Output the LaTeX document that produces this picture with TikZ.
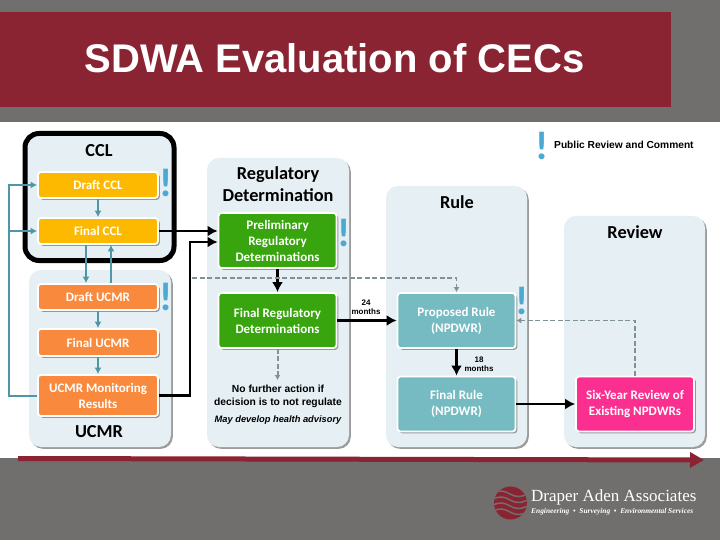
\documentclass[tikz,border=0pt]{standalone}
\usepackage{fontspec}
\setmainfont{Liberation Serif}
\setsansfont{Carlito}
\newfontfamily\arialf{Liberation Sans}
\usetikzlibrary{shadows,arrows.meta,calc}
\definecolor{bgray}{HTML}{716E6E}
\definecolor{maroon}{HTML}{8A2432}
\definecolor{panelc}{HTML}{E6F0F4}
\definecolor{ambc}{HTML}{FDB900}
\definecolor{orgc}{HTML}{F98A3D}
\definecolor{grnc}{HTML}{38A50F}
\definecolor{tealc}{HTML}{75BBC1}
\definecolor{pinkc}{HTML}{FB2F8F}
\definecolor{arrc}{HTML}{4F96A6}
\definecolor{dashc}{HTML}{7F9298}
\definecolor{markc}{HTML}{4CA9D2}
\tikzset{
  shad/.style={drop shadow={shadow xshift=1.8pt,shadow yshift=-1.8pt,opacity=.7,fill=black!55}},
  panel/.style={fill=panelc,rounded corners=12pt,inner sep=0pt,shad},
  ptitle/.style={font=\sffamily\bfseries\fontsize{18.3}{22}\selectfont,text=black,align=center,inner sep=0pt},
  cbox/.style={draw=white,line width=1.8pt,rounded corners=3pt,inner sep=0pt,shad,
     text=white,align=center,font=\sffamily\bfseries\fontsize{13}{16}\selectfont},
  amb/.style={cbox,fill=ambc,minimum width=120pt,minimum height=26pt},
  org/.style={cbox,fill=orgc,minimum width=120pt},
  grn/.style={cbox,fill=grnc,minimum width=118pt},
  tea/.style={cbox,fill=tealc,minimum width=118pt,minimum height=55pt},
  pnk/.style={cbox,fill=pinkc,minimum width=118pt,minimum height=55pt},
  tarr/.style={draw=arrc,line width=2pt,-{Latex[length=6.5pt,width=7pt]}},
  barr/.style={draw=black,line width=2.6pt,-{Latex[length=10pt,width=11pt]}},
  darr/.style={draw=dashc,line width=1.2pt,dash pattern=on 5pt off 2.5pt,-{Latex[length=5pt,width=6pt]}},
  bang/.style={text=markc,inner sep=0pt,font=\sffamily\bfseries\fontsize{40}{40}\selectfont},
  small/.style={font=\arialf\bfseries\fontsize{8}{9}\selectfont,align=center,inner sep=0pt,text=black},
}
\begin{document}
\begin{tikzpicture}[x=1pt,y=-1pt]
\useasboundingbox (0,0) rectangle (720,540);
\fill[bgray] (0,0) rectangle (720,540);
\fill[maroon] (0,12) rectangle (671,107);
\fill[white] (0,122) rectangle (720,458);
\node[text=white,inner sep=0pt,font=\arialf\bfseries\fontsize{40}{42}\selectfont] (title) at (334.5,58) {SDWA Evaluation of CECs};
% panels
\node[panel,minimum width=142pt,minimum height=177pt] (pu) at (100,358.5) {};
\node[panel,minimum width=149pt,minimum height=127pt,rounded corners=14pt,draw=black,line width=5pt] (pc) at (99.5,197) {};
\node[panel,minimum width=142pt,minimum height=289pt] (pr) at (278,302.5) {};
\node[panel,minimum width=141pt,minimum height=261pt] (pl) at (456.5,316.5) {};
\node[panel,minimum width=141pt,minimum height=231pt] (pv) at (634.5,331.5) {};
\node[ptitle] (tc) at (99,151) {CCL};
\node[ptitle] (tu) at (99,432) {UCMR};
\node[ptitle] (tr) at (278,184) {Regulatory\\Determination};
\node[ptitle] (tl) at (457,202) {Rule};
\node[ptitle] (tv) at (635,232) {Review};
% boxes
\node[amb] (dc) at (98,185) {Draft CCL};
\node[amb] (fc) at (98,231) {Final CCL};
\node[org,minimum height=26pt] (du) at (98,297) {Draft UCMR};
\node[org,minimum height=27pt] (fu) at (98,342.5) {Final UCMR};
\node[org,minimum height=41pt] (mu) at (98,395.5) {UCMR Monitoring\\Results};
\node[grn,minimum height=55pt] (pd) at (277.5,240.5) {Preliminary\\Regulatory\\Determinations};
\node[grn,minimum height=55pt] (fd) at (277.5,320.5) {Final Regulatory\\Determinations};
\node[tea] (pp) at (456.5,320.5) {Proposed Rule\\(NPDWR)};
\node[tea] (fr) at (456.5,404) {Final Rule\\(NPDWR)};
\node[pnk] (sx) at (635,404) {Six-Year Review of\\Existing NPDWRs};
% marks
\node[bang] (b0) at (542.5,146) {!};
\node[bang] (b1) at (166,183) {!};
\node[bang] (b2) at (344,233) {!};
\node[bang] (b3) at (166,297) {!};
\node[bang] (b4) at (522,301) {!};
% teal connectors
\coordinate (tl1) at (9,395.5);
\coordinate (tl2) at (9,185);
\coordinate (tl3) at (9,231);
\draw[tarr,-] (mu.west) -- (tl1) -- (tl3);
\draw[tarr] (tl3) -- (tl2) -- (dc.west);
\draw[tarr] (tl3) -- (fc.west);
\draw[tarr] (dc) -- (fc);
\draw[tarr] ([xshift=-12pt]fc.south) -- ([xshift=-12pt]du.north);
\draw[tarr] ([xshift=13pt]du.north) -- ([xshift=13pt]fc.south);
\draw[tarr] (du) -- (fu);
\draw[tarr] (fu) -- (mu);
% black connectors
\coordinate (bk1) at (190,395.5);
\coordinate (bk2) at (190,242);
\draw[barr] (fc.east) -- (pd.west |- fc.east);
\draw[barr] (mu.east) -- (bk1) -- (bk2) -- (pd.west |- bk2);
\draw[barr] (pd) -- (fd);
\draw[barr] (fd) -- (pp);
\draw[barr] (pp) -- (fr);
\draw[barr] (fr) -- (sx);
% dashed connectors
\coordinate (ds1) at (192,278);
\coordinate (ds2) at (456.5,278);
\draw[darr] (ds1) -- (ds2) -- (pp.north);
\coordinate (ds3) at (635,320.5);
\draw[darr,line width=1.6pt] (sx.north) -- (ds3) -- (pp.east);
\coordinate (ds4) at (277.5,380);
\draw[darr,line width=2pt] (fd.south) -- (ds4);
% labels
\node[small] (m24) at (366,307) {24\\months};
\node[small] (m18) at (479,364) {18\\months};
\node[inner sep=0pt,align=center,font=\arialf\bfseries\fontsize{10.3}{13}\selectfont] (nf) at (278,396) {No further action if\\decision is to not regulate};
\node[inner sep=0pt,font=\arialf\bfseries\itshape\fontsize{9.3}{10}\selectfont] (ma) at (278,420) {May develop health advisory};
\node[inner sep=0pt,anchor=west,font=\arialf\bfseries\fontsize{10.2}{11}\selectfont] (lg) at (554,145) {Public Review and Comment};
% timeline
\coordinate (t0) at (18,458.5);
\coordinate (t1) at (704,460);
\draw[maroon,line width=5pt,-{Triangle[length=14pt,width=15pt]}] (t0) -- (t1);
% logo
\begin{scope}
\clip (510.5,503) circle (16.5);
\fill[maroon] (492,485) rectangle (529,521);
\foreach \dy in {-9,-3,3,9}{
  \draw[bgray,line width=1.5pt] (492,503+\dy) .. controls (499,503+\dy-5) and (505,503+\dy-3) .. (510,503+\dy) .. controls (515,503+\dy+3) and (521,503+\dy+4) .. (529,503+\dy-1);
}
\end{scope}
\node[text=white,inner sep=0pt,anchor=west,font=\fontsize{17}{18}\selectfont] (da) at (531,497.5) {Draper Aden Associates};
\node[text=white,inner sep=0pt,anchor=west,font=\itshape\bfseries\fontsize{7.4}{8}\selectfont] (db) at (531,511.5) {Engineering \ \textbullet\ \ Surveying \ \textbullet\ \ Environmental Services};
\end{tikzpicture}
\end{document}
